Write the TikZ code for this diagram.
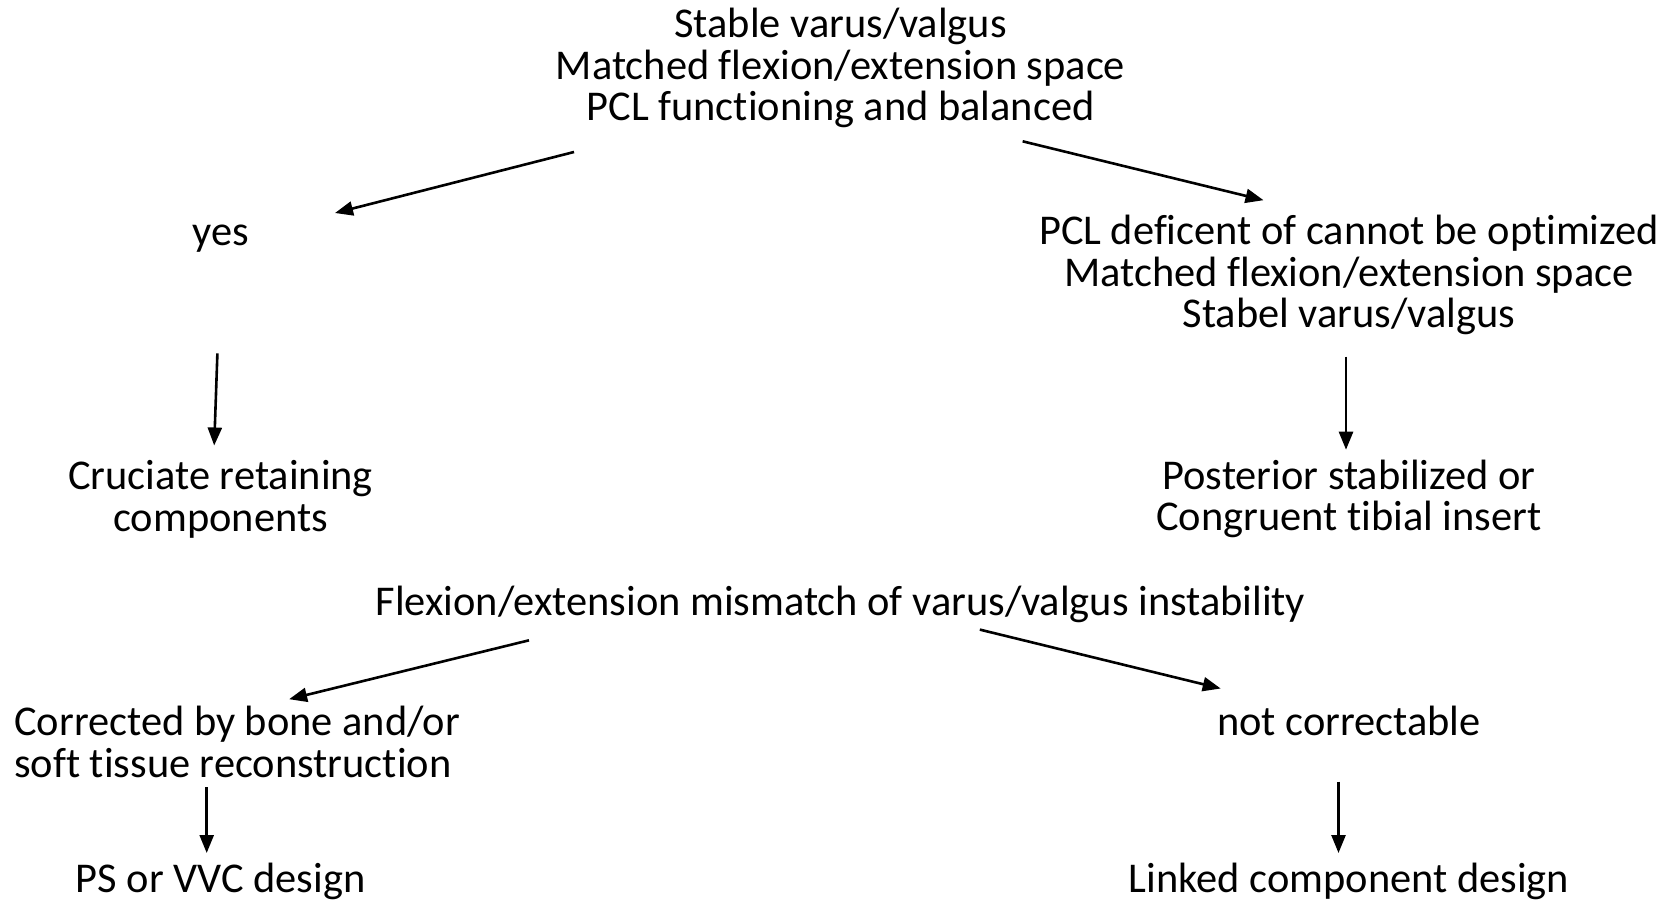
\documentclass[tikz,border=0pt]{standalone}
\usepackage{fontspec}
\setmainfont{Carlito}[Ligatures=NoCommon]
\usepackage{tikz}
\usetikzlibrary{arrows.meta}
\usetikzlibrary{calc,positioning}

\tikzset{
    txt/.style={align=center, inner sep=0pt, font=\fontsize{21.2}{20.9}\selectfont},
    pijl/.style={line width=1.3pt, -{Triangle[length=9pt,width=7pt]}}
}

\begin{document}
\begin{tikzpicture}[x=0.5pt,y=-0.5pt]

    \useasboundingbox (0,0) rectangle (1679,905);

    % Teksten
    \node[txt] (stable) at (840.6,68) {Stable varus/valgus\\Matched flexion/extension space\\PCL functioning and balanced};
    \node[txt] (yes) at (220.6,238.5) {yes};
    \node[txt] (pcldef) at (1349,275) {PCL deficent of cannot be optimized\\Matched flexion/extension space\\Stabel varus/valgus};
    \node[txt] (cruciate) at (220.6,499) {Cruciate retaining\\components};
    \node[txt] (posterior) at (1349,499) {Posterior stabilized or\\Congruent tibial insert};
    \node[txt] (mismatch) at (840.6,604) {Flexion/extension mismatch of varus/valgus instability};
    \node[txt, align=left, anchor=west] (corrected) at (13.9,742) {Corrected by bone and/or\\soft tissue reconstruction};
    \node[txt] (notcorr) at (1349,721) {not correctable};
    \node[txt] (psvvc) at (220.6,881) {PS or VVC design};
    \node[txt] (linked) at (1349,881) {Linked component design};

    % Eindpunten pijlen
    \coordinate (a1) at (574,152);    \coordinate (b1) at (335,213);
    \coordinate (a2) at (1022.6,141.3); \coordinate (b2) at (1263.5,200.2);
    \coordinate (a3) at (217.4,353.4); \coordinate (b3) at (214.2,445.5);
    \coordinate (a4) at (1346,356.6);  \coordinate (b4) at (1346,449.7);
    \coordinate (a5) at (529,640.3);   \coordinate (b5) at (289.1,699.2);
    \coordinate (a6) at (979.8,629.6); \coordinate (b6) at (1220.7,688.5);
    \coordinate (a7) at (206.7,787);   \coordinate (b7) at (206.7,853);
    \coordinate (a8) at (1338.5,781.7); \coordinate (b8) at (1338.5,853);

    % Pijlen
    \foreach \i in {1,...,8} {
        \draw[pijl] (a\i) -- (b\i);
    }

\end{tikzpicture}
\end{document}
